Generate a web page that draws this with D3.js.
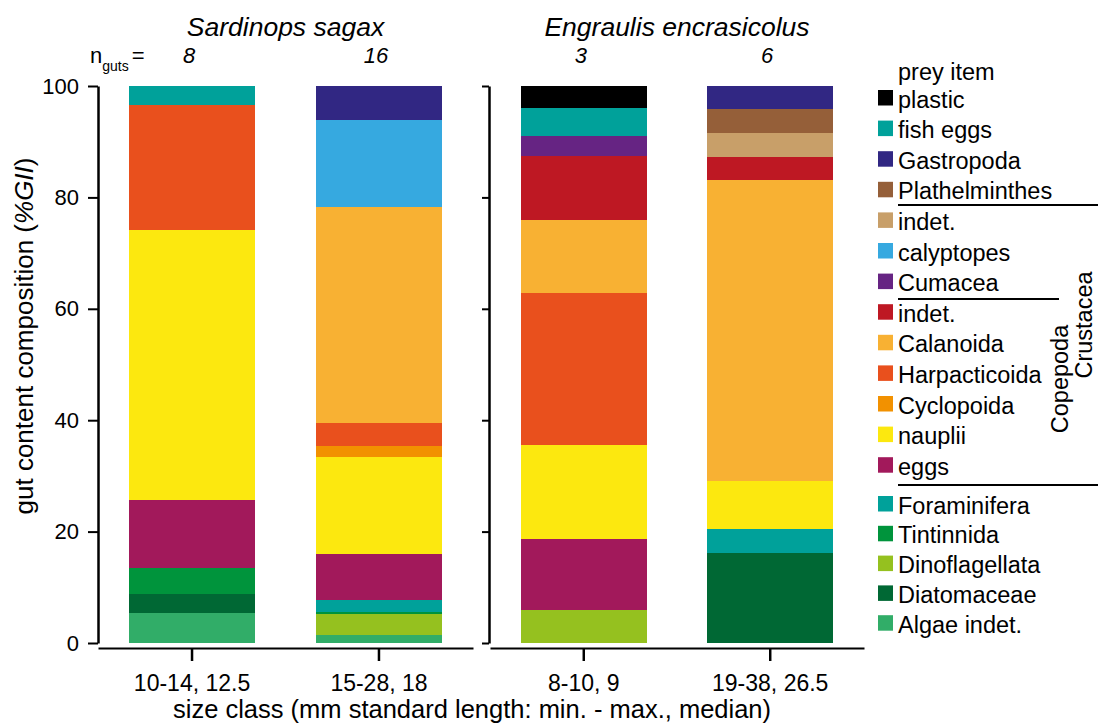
<!DOCTYPE html>
<html>
<head>
<meta charset="utf-8">
<script src="https://cdn.jsdelivr.net/npm/d3@7"></script>
<style>
  body { margin: 0; background: #fff; }
  text { font-family: "Liberation Sans", Arial, sans-serif; fill: #000; }
</style>
</head>
<body>
<svg id="chart" width="1099" height="728"></svg>
<script>
// data (% of gut content, legend order top -> bottom)
const species = ["Sardinops sagax", "Engraulis encrasicolus"];
const sizeClasses = [["10-14, 12.5", "15-28, 18"], ["8-10, 9", "19-38, 26.5"]];
const nGuts = [[8, 16], [3, 6]];
const yTicks = [0, 20, 40, 60, 80, 100];

const preyItems = ["plastic", "fish eggs", "Gastropoda", "Plathelminthes", "indet.", "calyptopes",
  "Cumacea", "indet.", "Calanoida", "Harpacticoida", "Cyclopoida", "nauplii", "eggs",
  "Foraminifera", "Tintinnida", "Dinoflagellata", "Diatomaceae", "Algae indet."];
const preyColors = ["#000000", "#00a19a", "#312783", "#955f39", "#c89f69", "#36a9e0",
  "#662483", "#be1823", "#f8b133", "#e9501d", "#f29100", "#fce80f", "#a2195b",
  "#00a19a", "#00943c", "#95c11f", "#006834", "#31ad68"];

const sardinopsValues = [
  [0, 3.5, 0, 0, 0, 0, 0, 0, 0, 22.3, 0, 48.5, 12.3, 0, 4.6, 0, 3.4, 5.4],
  [0, 0, 6.1, 0, 0, 15.6, 0, 0, 38.8, 4.1, 2.0, 17.4, 8.3, 2.1, 0.4, 3.8, 0, 1.4]
];
const engraulisValues = [
  [3.9, 5.0, 0, 0, 0, 0, 3.7, 11.4, 13.1, 27.4, 0, 16.8, 12.8, 0, 0, 5.9, 0, 0],
  [0, 0, 4.2, 4.3, 4.2, 0, 0, 4.2, 54.0, 0, 0, 8.6, 0, 4.3, 0, 0, 16.2, 0]
];

const svg = d3.select("#chart");
svg.append("rect").attr("width", 1099).attr("height", 728).attr("fill", "#fff");

const y = d3.scaleLinear().domain([0, 100]).range([643, 86]);
const panelRanges = [[98, 473], [490, 864]];
const allValues = [sardinopsValues, engraulisValues];
// stack from the bottom of the legend upwards
const stackKeys = d3.range(preyItems.length).reverse();

allValues.forEach((vals, p) => {
  const x = d3.scaleBand()
    .domain(sizeClasses[p])
    .range(panelRanges[p])
    .paddingInner(0.326)
    .paddingOuter(0.166);

  const rows = vals.map((v, i) => {
    const r = { cls: sizeClasses[p][i] };
    v.forEach((d, k) => r[k] = d);
    return r;
  });
  const series = d3.stack().keys(stackKeys)(rows);

  svg.append("g")
    .selectAll("g")
    .data(series)
    .join("g")
    .attr("fill", s => preyColors[s.key])
    .selectAll("rect")
    .data(s => s)
    .join("rect")
    .attr("x", d => x(d.data.cls))
    .attr("width", x.bandwidth())
    .attr("y", d => y(d[1]))
    .attr("height", d => y(d[0]) - y(d[1]))
    .attr("shape-rendering", "crispEdges");

  // x axis
  const gx = svg.append("g")
    .attr("transform", "translate(0,648)")
    .call(d3.axisBottom(x).tickSize(13).tickSizeOuter(0));
  gx.select(".domain").attr("stroke-width", 2);
  gx.selectAll(".tick line").attr("stroke-width", 2.5);
  gx.selectAll("text")
    .attr("dy", 0).attr("y", 43)
    .attr("font-size", 23)
    .attr("font-family", "Liberation Sans, Arial, sans-serif");

  // species title and number of guts
  svg.append("text")
    .attr("x", (panelRanges[p][0] + panelRanges[p][1]) / 2)
    .attr("y", 36)
    .attr("text-anchor", "middle")
    .attr("font-size", 26.5)
    .attr("font-style", "italic")
    .text(species[p]);

  svg.append("g")
    .selectAll("text")
    .data(nGuts[p])
    .join("text")
    .attr("x", (d, i) => x(sizeClasses[p][i]) + x.bandwidth() / 2 - 3)
    .attr("y", 63)
    .attr("text-anchor", "middle")
    .attr("font-size", 22)
    .attr("font-style", "italic")
    .text(d => d);
});

// y axis of the left panel
const gyL = svg.append("g")
  .attr("transform", "translate(98,0)")
  .call(d3.axisLeft(y).tickValues(yTicks).tickSize(10).tickSizeOuter(0).tickPadding(9));
gyL.select(".domain").attr("stroke-width", 2.5);
gyL.selectAll(".tick line").attr("stroke-width", 2);
gyL.selectAll("text")
  .attr("font-size", 22)
  .attr("font-family", "Liberation Sans, Arial, sans-serif");

// y axis of the right panel (no labels)
const gyR = svg.append("g")
  .attr("transform", "translate(489,0)")
  .call(d3.axisLeft(y).tickValues(yTicks).tickSize(7).tickSizeOuter(0).tickFormat(""));
gyR.select(".domain").attr("stroke-width", 2.5);
gyR.selectAll(".tick line").attr("stroke-width", 2);

// n guts label
const ng = svg.append("text").attr("x", 90).attr("y", 63).attr("font-size", 22);
ng.append("tspan").text("n");
ng.append("tspan").attr("dy", 8).attr("font-size", 14).text("guts");
ng.append("tspan").attr("dy", -8).attr("dx", 3).text("=");

// axis titles
const yl = svg.append("text")
  .attr("transform", "translate(33,336) rotate(-90)")
  .attr("text-anchor", "middle")
  .attr("font-size", 26);
yl.append("tspan").text("gut content composition (");
yl.append("tspan").attr("font-style", "italic").text("%GII");
yl.append("tspan").text(")");

svg.append("text")
  .attr("x", 472)
  .attr("y", 718)
  .attr("text-anchor", "middle")
  .attr("font-size", 25.5)
  .text("size class (mm standard length: min. - max., median)");

// legend
const legend = svg.append("g");
legend.append("text").attr("x", 898).attr("y", 80).attr("font-size", 23.5).text("prey item");
const rowTop = i => i < 13 ? 90 + i * 30.6 : 496 + (i - 13) * 29.8;
const rows = legend.selectAll("g.row")
  .data(preyItems)
  .join("g")
  .attr("class", "row")
  .attr("transform", (d, i) => `translate(0,${rowTop(i)})`);
rows.append("rect")
  .attr("x", 878).attr("width", 15).attr("height", 15.5)
  .attr("fill", (d, i) => preyColors[i]);
rows.append("text")
  .attr("x", 898).attr("y", 17.5)
  .attr("font-size", 23.5)
  .text(d => d);

// group brackets in the legend
const sepLines = [[205, 1098], [299, 1059], [485, 1098]];
legend.selectAll("line")
  .data(sepLines)
  .join("line")
  .attr("x1", 898).attr("x2", d => d[1])
  .attr("y1", d => d[0]).attr("y2", d => d[0])
  .attr("stroke", "#000").attr("stroke-width", 2);

legend.append("text")
  .attr("transform", "translate(1068,379) rotate(-90)")
  .attr("text-anchor", "middle")
  .attr("font-size", 23.5)
  .text("Copepoda");
legend.append("text")
  .attr("transform", "translate(1092,325) rotate(-90)")
  .attr("text-anchor", "middle")
  .attr("font-size", 23.5)
  .text("Crustacea");
</script>
</body>
</html>
